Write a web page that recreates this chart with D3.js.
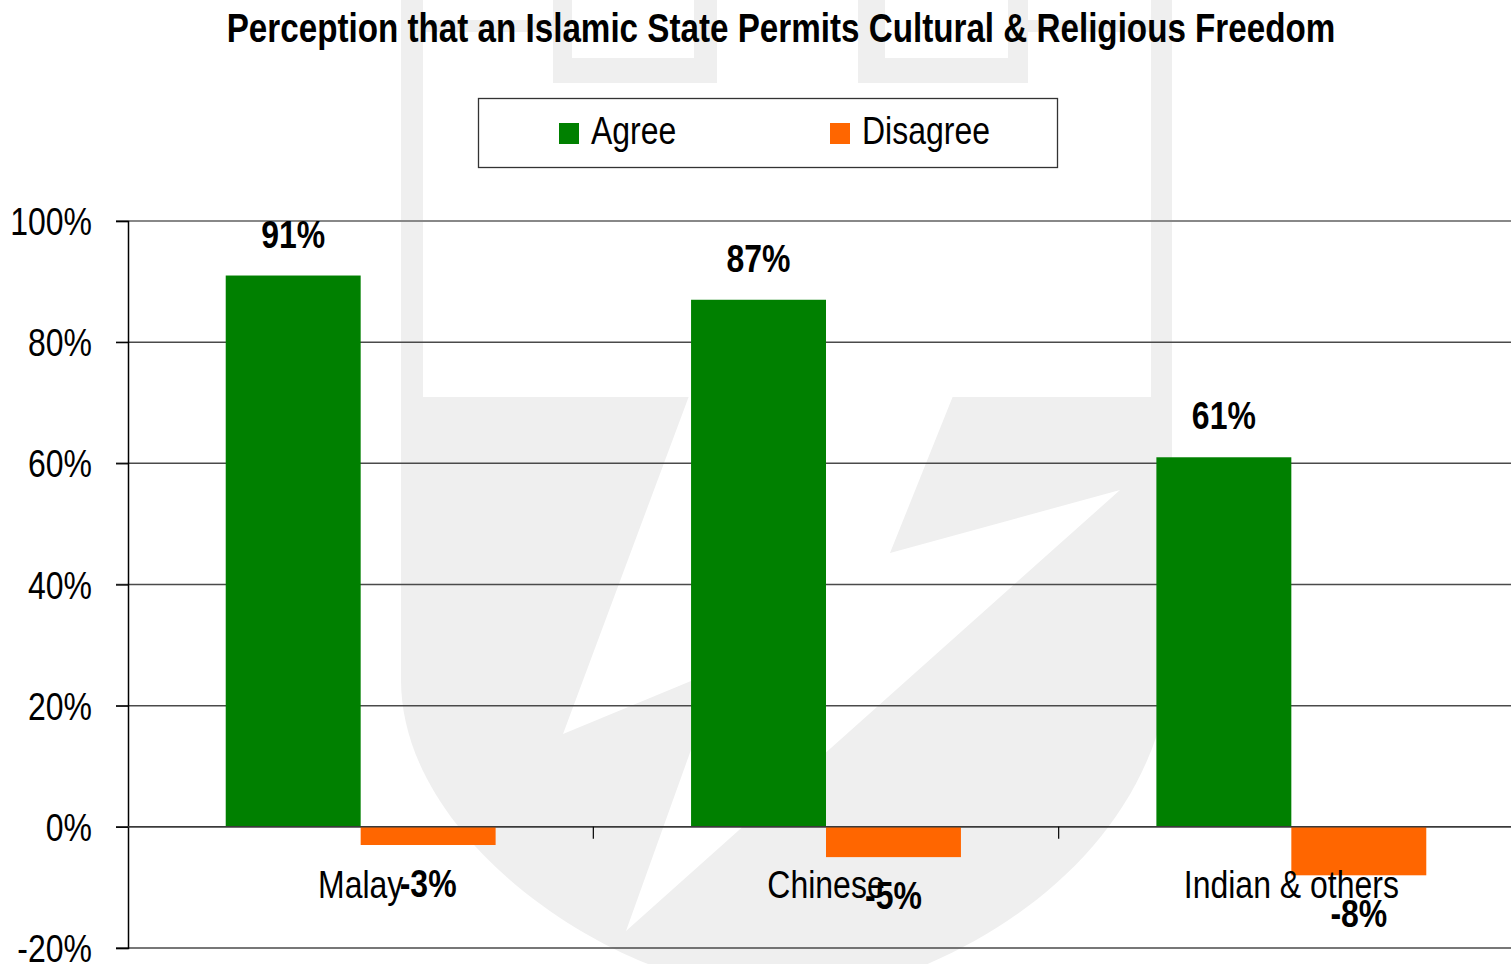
<!DOCTYPE html>
<html>
<head>
<meta charset="utf-8">
<script src="https://cdn.jsdelivr.net/npm/d3@7"></script>
<style>
  html, body { margin: 0; padding: 0; background: #fff; }
  svg { display: block; }
  text { font-family: "Liberation Sans", Arial, sans-serif; fill: #000; }
</style>
</head>
<body>
<svg id="chart" width="1511" height="964"></svg>
<script>
const title = "Perception that an Islamic State Permits Cultural & Religious Freedom";
const categories = ["Malay", "Chinese", "Indian & others"];
const seriesNames = ["Agree", "Disagree"];
const agree = [91, 87, 61];
const disagree = [-3, -5, -8];
const yTicks = [-20, 0, 20, 40, 60, 80, 100];
const colors = ["#008000", "#ff6600"];

const W = 1511, H = 964;
const svg = d3.select("#chart");
const NARROW = 0.82;

function txt(parent, x, y, str, opts) {
  opts = opts || {};
  const g = parent.append("g").attr("transform", `translate(${x},${y}) scale(${opts.sx || NARROW},1)`);
  return g.append("text")
    .attr("x", 0).attr("y", 0)
    .attr("text-anchor", opts.anchor || "start")
    .attr("font-size", opts.size || 39)
    .attr("font-weight", opts.bold ? "bold" : "normal")
    .text(str);
}

// ---- watermark (decorative shield) ----
const wm = svg.append("g").attr("class", "watermark");
const WMC = "#efefef";
wm.append("path").attr("fill", WMC)
  .attr("d", "M401,0 V680 C401,820 560,940 680,975 L900,975 C1050,920 1172,800 1172,640 V0 Z");
wm.append("rect").attr("fill", "#fff").attr("x", 423).attr("y", -1).attr("width", 728).attr("height", 398);
wm.append("rect").attr("fill", WMC).attr("x", 423).attr("y", 20).attr("width", 130).attr("height", 12);
wm.append("rect").attr("fill", WMC).attr("x", 1028).attr("y", 20).attr("width", 123).attr("height", 12);
wm.append("rect").attr("fill", WMC).attr("x", 553).attr("y", 0).attr("width", 164).attr("height", 83);
wm.append("rect").attr("fill", "#fff").attr("x", 572).attr("y", -1).attr("width", 122).attr("height", 59);
wm.append("rect").attr("fill", WMC).attr("x", 858).attr("y", 0).attr("width", 170).attr("height", 83);
wm.append("rect").attr("fill", "#fff").attr("x", 885).attr("y", -1).attr("width", 123).attr("height", 59);
wm.append("path").attr("fill", "#fff")
  .attr("d", "M689,396 L953,396 L890,553 L1120,490 L626,931 L720,669 L563,734 Z");

// ---- scales ----
const x = d3.scaleBand().domain(categories).range([128, 1524]).paddingInner(0).paddingOuter(0);
const y = d3.scaleLinear().domain([-20, 100]).range([948, 221]);
const barW = x.bandwidth() * 0.29;

// ---- gridlines ----
const grid = svg.append("g");
grid.selectAll("line").data(yTicks).join("line")
  .attr("x1", 116).attr("x2", W)
  .attr("y1", d => y(d)).attr("y2", d => y(d))
  .attr("stroke", d => d === 100 ? "#888" : "#4a4a4a")
  .attr("stroke-width", d => d === 100 ? 2.2 : 1.5);

// ---- y axis ----
const yAxis = d3.axisLeft(y).tickValues(yTicks).tickSize(12).tickFormat("");
const yg = svg.append("g").attr("transform", "translate(128,0)").call(yAxis);
yg.select(".domain").attr("stroke", "#000").attr("stroke-width", 1.5);
yg.selectAll(".tick line").attr("stroke", "#000").attr("stroke-width", 1.2);
yTicks.forEach(t => txt(svg, 92, y(t) + 14, t + "%", { anchor: "end", size: 39 }));

// ---- bars ----
const bars = svg.append("g");
const data = categories.map((c, i) => ({ c, vals: [agree[i], disagree[i]] }));
data.forEach(d => {
  const cx = x(d.c) + x.bandwidth() / 2;
  d.vals.forEach((v, k) => {
    const x0 = k === 0 ? cx - barW : cx;
    bars.append("rect")
      .attr("x", x0).attr("width", barW)
      .attr("y", Math.min(y(v), y(0)))
      .attr("height", Math.abs(y(v) - y(0)))
      .attr("fill", colors[k]);
  });
});

// zero line over bars
svg.append("line").attr("x1", 128).attr("x2", W).attr("y1", y(0)).attr("y2", y(0))
  .attr("stroke", "#3a3a3a").attr("stroke-width", 1.5);

// category tick marks (band boundaries)
categories.slice(1).forEach(c => {
  svg.append("line").attr("x1", x(c)).attr("x2", x(c))
    .attr("y1", y(0)).attr("y2", y(0) + 12)
    .attr("stroke", "#000").attr("stroke-width", 1.2);
});

// ---- category labels ----
categories.forEach(c => txt(svg, x(c) + x.bandwidth() / 2, 898, c, { anchor: "middle", size: 39 }));

// ---- data labels ----
data.forEach(d => {
  const cx = x(d.c) + x.bandwidth() / 2;
  txt(svg, cx - barW / 2, y(d.vals[0]) - 28, d.vals[0] + "%", { anchor: "middle", size: 39, bold: true });
  txt(svg, cx + barW / 2, y(d.vals[1]) + 52, d.vals[1] + "%", { anchor: "middle", size: 39, bold: true });
});

// ---- title ----
txt(svg, 781, 42, title, { anchor: "middle", size: 40, bold: true, sx: 0.83 });

// ---- legend ----
const lg = svg.append("g");
lg.append("rect").attr("x", 478.5).attr("y", 98.5).attr("width", 579).attr("height", 69)
  .attr("fill", "#fff").attr("stroke", "#333").attr("stroke-width", 1.3);
const legX = [559, 830];
seriesNames.forEach((s, i) => {
  lg.append("rect").attr("x", legX[i]).attr("y", 123).attr("width", 20).attr("height", 21).attr("fill", colors[i]);
  txt(lg, legX[i] + 32, 144, s, { size: 39 });
});
</script>
</body>
</html>
